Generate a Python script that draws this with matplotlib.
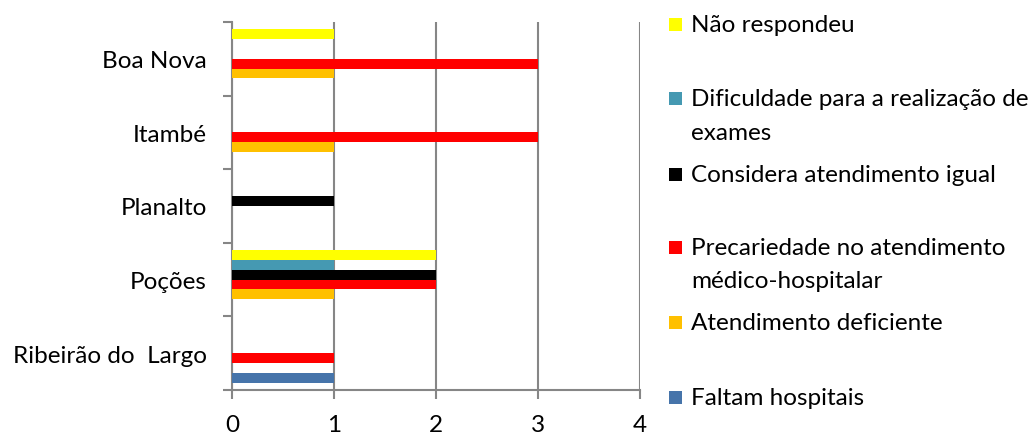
import matplotlib
matplotlib.use("Agg")
import matplotlib.pyplot as plt
from matplotlib.patches import Rectangle
import numpy as np

plt.rcParams['font.family'] = ['Lato', 'DejaVu Sans']

municipios = ["Ribeirão do  Largo", "Poções", "Planalto", "Itambé", "Boa Nova"]

series_names = [
    "Faltam hospitais",
    "Atendimento deficiente",
    "Precariedade no atendimento\nmédico-hospitalar",
    "Considera atendimento igual",
    "Dificuldade para a realização de\nexames",
    "Não respondeu",
]
series_colors = ["#4674AA", "#FFC000", "#FF0000", "#000000", "#4599B2", "#FFFF00"]

faltam_hospitais       = [1, 0, 0, 0, 0]
atendimento_deficiente = [0, 1, 0, 1, 1]
precariedade           = [1, 2, 0, 3, 3]
considera_igual        = [0, 2, 1, 0, 0]
dificuldade_exames     = [0, 1, 0, 0, 0]
nao_respondeu          = [0, 2, 0, 0, 1]

values = [faltam_hospitais, atendimento_deficiente, precariedade,
          considera_igual, dificuldade_exames, nao_respondeu]

FS = 17.5
W, H = 1036, 435
fig = plt.figure(figsize=(W / 100, H / 100), dpi=100)
ax = fig.add_axes([232 / W, 44 / H, (640 - 232) / W, (391 - 23) / H])

n = len(values)
group = 0.8
bh = group / n
y = np.arange(len(municipios))
for i, (vals, col) in enumerate(zip(values, series_colors)):
    ax.barh(y - group / 2 + bh * (i + 0.5), vals, height=bh, color=col,
            edgecolor='none', zorder=3)

grid_c = "#868686"
ax.set_xlim(0, 4)
ax.set_ylim(-0.5, len(municipios) - 0.5)
ax.set_xticks([0, 1, 2, 3, 4])
ax.xaxis.grid(True, color=grid_c, linewidth=1.5, zorder=0)

# category boundaries carry the tick marks, labels sit at the centres
ax.set_yticks(np.arange(-0.5, len(municipios), 1.0))
ax.set_yticklabels([])
ax.set_yticks(y, minor=True)
ax.set_yticklabels(municipios, minor=True)
ax.tick_params(axis='y', which='major', length=6.5, width=1.5, color=grid_c)
ax.tick_params(axis='y', which='minor', length=0, pad=18, labelsize=FS)
ax.tick_params(axis='x', length=6.5, width=1.5, color=grid_c, pad=11, labelsize=FS)

for s in ['top', 'right']:
    ax.spines[s].set_visible(False)
for s in ['left', 'bottom']:
    ax.spines[s].set_color(grid_c)
    ax.spines[s].set_linewidth(1.5)

# legend drawn entry by entry, top to bottom
legend_rows = [26, 100, 176, 249, 324, 399]
line_step = 33
for (name, col), yy in zip(list(zip(series_names, series_colors))[::-1], legend_rows):
    fig.patches.append(Rectangle((669 / W, (H - yy - 6) / H), 13 / W, 13 / H,
                                 transform=fig.transFigure, facecolor=col,
                                 edgecolor='none'))
    for k, line in enumerate(name.split("\n")):
        fig.text(691 / W, (H - yy - k * line_step) / H, line, fontsize=FS,
                 va='center', ha='left')

fig.savefig("out.png", dpi=100)
